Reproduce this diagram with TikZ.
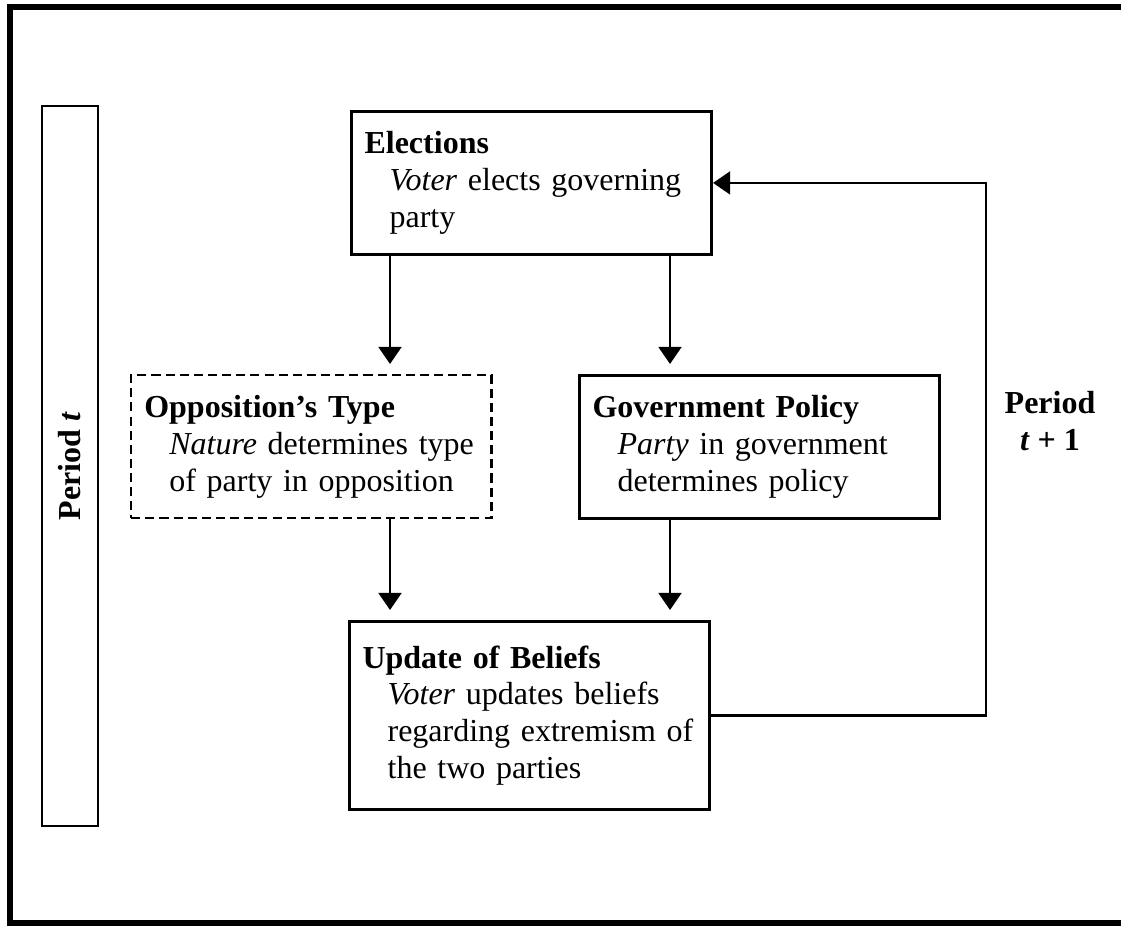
\documentclass[tikz,border=0pt]{standalone}
\usepackage{fontspec}
\setmainfont{Liberation Serif}
\usetikzlibrary{arrows.meta}

\begin{document}
\fontsize{12}{13.8}\selectfont
\begin{tikzpicture}[x=0.375pt,y=-0.375pt,
  stage/.style={draw,line width=1.1pt,anchor=north west,minimum height=53.6pt,
    text width=125.25pt,inner xsep=4.9pt,align=left},
  flow/.style={line width=0.8pt,-{Triangle[length=6.4pt,width=8.6pt]}}]
  \useasboundingbox (0,0) rectangle (1121,926);
  \draw[line width=2.25pt] (1121,7) -- (9.5,7) -- (9.5,923) -- (1121,923);
  \node[draw,line width=1.1pt,rotate=90,minimum width=270pt,minimum height=21pt,
    font=\bfseries] (period) at (70,466) {Period \textit{t}};
  \node[stage] (elect) at (350,110) {\textbf{Elections}\\
    \hspace*{9.4pt}\emph{Voter} elects governing\\
    \hspace*{9.4pt}party};
  \node[stage,line width=0.9pt,dash pattern=on 3.4pt off 1.9pt] (opp) at (130,374)
    {\textbf{Opposition’s Type}\\
    \hspace*{9.4pt}\emph{Nature} determines type\\
    \hspace*{9.4pt}of party in opposition};
  \node[stage] (gov) at (578,374) {\textbf{Government Policy}\\
    \hspace*{9.4pt}\emph{Party} in government\\
    \hspace*{9.4pt}determines policy};
  \node[stage,minimum height=70.5pt] (upd) at (348,620) {\textbf{Update of Beliefs}\\
    \hspace*{9.4pt}\emph{Voter} updates beliefs\\
    \hspace*{9.4pt}regarding extremism of\\
    \hspace*{9.4pt}the two parties};
  \node[font=\bfseries,align=center,inner sep=0pt] (next) at (1050,421)
    {Period\\\textit{t} + 1};
  \coordinate (lx) at (390,0);
  \coordinate (rx) at (670,0);
  \coordinate (fx) at (986,0);
  \draw[flow,shorten >=3.75pt] (lx |- elect.south) -- (lx |- opp.north);
  \draw[flow,shorten >=3.75pt] (rx |- elect.south) -- (rx |- gov.north);
  \draw[flow,shorten >=3.75pt] (lx |- opp.south) -- (lx |- upd.north);
  \draw[flow,shorten >=3.75pt] (rx |- gov.south) -- (rx |- upd.north);
  \draw[flow] (upd.east) -- (fx |- upd.east) -- (fx |- elect.east) -- (elect.east);
\end{tikzpicture}
\end{document}
